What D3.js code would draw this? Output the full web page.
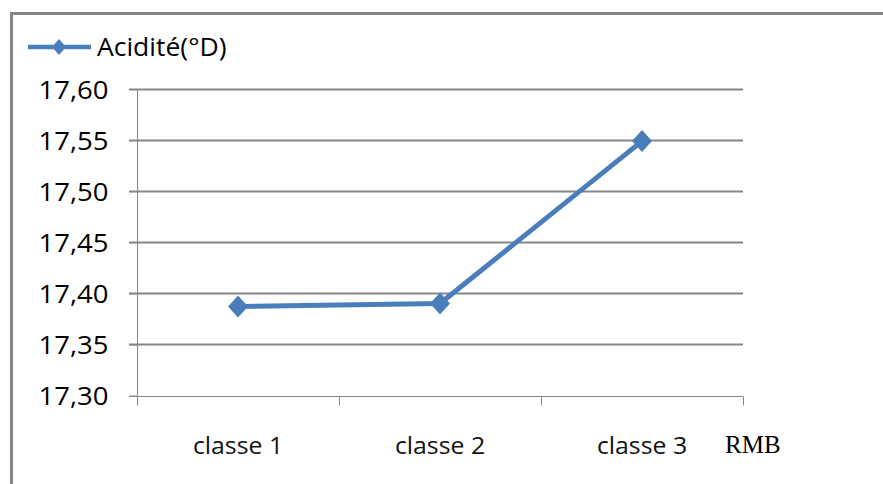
<!DOCTYPE html>
<html><head><meta charset="utf-8">
<script src="https://cdn.jsdelivr.net/npm/d3@7"></script>
<style>body{margin:0;background:#fff}svg{display:block}</style>
</head><body>
<svg id="c" width="883" height="484"></svg>
<script>
const categories = ["classe 1", "classe 2", "classe 3"];
const values = [17.387, 17.390, 17.549];
const yTicks = [17.30, 17.35, 17.40, 17.45, 17.50, 17.55, 17.60];
const seriesName = "Acidité(°D)";
const axisTitle = "RMB";

const svg = d3.select("#c");
const lblFont = "'Open Sans', 'DejaVu Sans', sans-serif";
const color = "#4A7EBB";
const grid = "#868686";

// outer frame
svg.append("line").attr("x1", 11.5).attr("x2", 883).attr("y1", 13.5).attr("y2", 13.5).attr("stroke", grid).attr("stroke-width", 3);
svg.append("line").attr("x1", 11.5).attr("x2", 11.5).attr("y1", 12).attr("y2", 484).attr("stroke", grid).attr("stroke-width", 3);

const x = d3.scaleBand().domain(categories).range([137, 743]);
const y = d3.scaleLinear().domain([17.30, 17.60]).range([395.5, 89]);

// gridlines
svg.append("g").selectAll("line").data(yTicks.slice(1)).join("line")
  .attr("x1", 129).attr("x2", 743)
  .attr("y1", d => Math.round(y(d)) + 0.5).attr("y2", d => Math.round(y(d)) + 0.5)
  .attr("stroke", grid).attr("stroke-width", 2);

// y axis
const yAxis = d3.axisLeft(y).tickValues(yTicks).tickSize(8).tickPadding(21)
  .tickFormat(d => d3.format(".2f")(d).replace(".", ","));
const gy = svg.append("g").attr("transform", "translate(137.5,0)").call(yAxis);
gy.select(".domain").attr("stroke", grid).attr("d", `M0,${y(17.60)}V${y(17.30)}`);
gy.selectAll(".tick line").attr("stroke", grid);
gy.selectAll(".tick text").each(function () {
  const t = d3.select(this);
  const tx = +t.attr("x");
  t.attr("x", null).attr("transform", `translate(${tx},0) scale(1.1,1)`);
});
gy.selectAll("text").attr("font-family", lblFont).attr("font-size", 25).attr("fill", "#000").attr("dy", "0.36em");

// x axis
const gx = svg.append("g").attr("transform", `translate(0,${Math.round(y(17.30)) + 0.5})`);
gx.append("line").attr("x1", 129).attr("x2", 743).attr("stroke", grid);
const bounds = [...categories.map(c => x(c)), x.range()[1]];
gx.selectAll("line.t").data(bounds).join("line").attr("class", "t")
  .attr("x1", d => Math.round(d) + 0.5).attr("x2", d => Math.round(d) + 0.5)
  .attr("y1", 0).attr("y2", 9).attr("stroke", grid);
gx.selectAll("text.c").data(categories).join("text").attr("class", "c")
  .attr("transform", d => `translate(${x(d) + x.bandwidth() / 2},57) scale(1.08,1)`)
  .attr("text-anchor", "middle").attr("font-family", lblFont).attr("font-size", 23).attr("fill", "#111")
  .text(d => d);
gx.append("text").attr("x", 725).attr("y", 56).attr("font-family", "'Liberation Serif', 'Times New Roman', serif")
  .attr("font-size", 25).attr("fill", "#000").text(axisTitle);

// line
const pts = categories.map((c, i) => [x(c) + x.bandwidth() / 2, y(values[i])]);
svg.append("path").attr("d", d3.line()(pts)).attr("fill", "none").attr("stroke", color)
  .attr("stroke-width", 5).attr("stroke-linejoin", "round");
const diamondPath = (w, h) => `M0,${-h}L${w},0L0,${h}L${-w},0Z`;
svg.append("g").selectAll("path").data(pts).join("path")
  .attr("transform", d => `translate(${d[0]},${d[1]})`)
  .attr("d", diamondPath(10, 11))
  .attr("fill", color);

// legend
svg.append("line").attr("x1", 28).attr("x2", 91).attr("y1", 47).attr("y2", 47).attr("stroke", color).attr("stroke-width", 4.5);
svg.append("path").attr("d", diamondPath(7, 8)).attr("transform", "translate(59,47)").attr("fill", color);
svg.append("text").attr("transform", "translate(97,56) scale(1.06,1)").attr("font-family", lblFont).attr("font-size", 25).attr("fill", "#000").text(seriesName);
</script>
</body></html>
